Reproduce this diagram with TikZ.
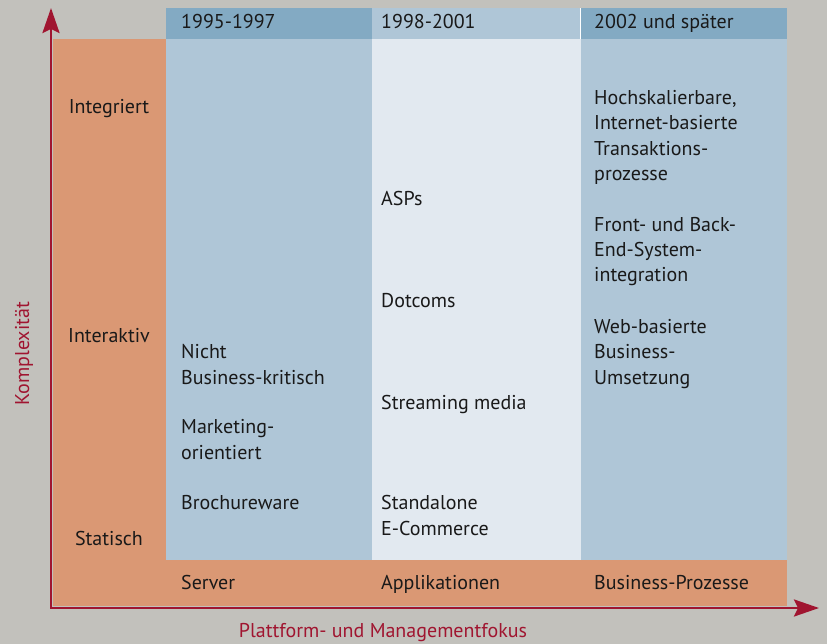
\documentclass[tikz,border=0pt]{standalone}
\usepackage{fontspec}
\setmainfont{PT Sans}
\usepackage{tikz}
\usetikzlibrary{arrows.meta}
\usetikzlibrary{positioning}

\definecolor{grund}{HTML}{C2C1BC}
\definecolor{orange}{HTML}{DA9874}
\definecolor{blau}{HTML}{AFC6D7}
\definecolor{dunkelblau}{HTML}{83AAC3}
\definecolor{hellblau}{HTML}{E2E9F0}
\definecolor{rot}{HTML}{A01530}

\begin{document}
\begin{tikzpicture}[
	x=1pt, y=-1pt,
  > = {Stealth[length=25pt,width=17pt,inset=4pt]},
  axis/.style = {draw=rot,line width=2.6pt},
  lbl/.style = {anchor=base west,inner sep=0pt,align=left,text=black!90,font=\fontsize{20}{25.5}\selectfont},
  stufe/.style = {lbl,anchor=base},
  achse/.style = {inner sep=0pt,text=rot,font=\fontsize{20}{24}\selectfont}
  ]
	\useasboundingbox[fill=grund] (0,0) rectangle (827,644);

	% Flaechen
	\fill[orange] (53,39) rectangle (787,606);
	\fill[dunkelblau] (166,8) rectangle (372,39);
	\fill[blau] (372,8) rectangle (580,39);
	\fill[dunkelblau] (581,8) rectangle (787,39);
	\fill[blau] (166,39) rectangle (372,560);
	\fill[hellblau] (372,39) rectangle (581,560);
	\fill[blau] (581,39) rectangle (787,560);
	\fill[white] (580,8) rectangle (581,39);

	\coordinate (@y) at (51,8);
	\coordinate (@x) at (819,608);

  	\draw[<->, axis] (@y) |- (@x);

	\node[achse, anchor=base] (xlabel) at (383,637) {Plattform- und Managementfokus};
	\node[achse, anchor=base, rotate=90] (ylabel) at (29,354) {Komplexität};

	% Spaltenkoepfe
	\node[lbl] (kopf1) at (181,29) {1995-1997};
	\node[lbl] (kopf2) at (381,29) {1998-2001};
	\node[lbl] (kopf3) at (594,29) {2002 und später};

	% Stufen
	\node[stufe] (integriert) at (109,114) {Integriert};
	\node[stufe] (interaktiv) at (109,342) {Interaktiv};
	\node[stufe] (statisch) at (109,545) {Statisch};

	% 1995-1997 (base = letzte Zeile)
	\node[lbl] (nicht) at (181,384) {Nicht\\Business-kritisch};
	\node[lbl] (marketing) at (181,459) {Marketing-\\orientiert};
	\node[lbl] (brochure) at (181,509) {Brochureware};

	% 1998-2001
	\node[lbl] (asps) at (381,206) {ASPs};
	\node[lbl] (dotcoms) at (381,308) {Dotcoms};
	\node[lbl] (streaming) at (381,409) {Streaming media};
	\node[lbl] (standalone) at (381,535) {Standalone\\E-Commerce};

	% 2002 und spaeter
	\node[lbl] (hochskal) at (594,181) {Hochskalierbare,\\Internet-basierte\\Transaktions-\\prozesse};
	\node[lbl] (frontback) at (594,282) {Front- und Back-\\End-System-\\integration};
	\node[lbl] (webbasiert) at (594,384) {Web-basierte\\Business-\\Umsetzung};

	% Plattformen
	\node[lbl] (server) at (181,589) {Server};
	\node[lbl] (applikationen) at (381,589) {Applikationen};
	\node[lbl] (prozesse) at (594,589) {Business-Prozesse};

\end{tikzpicture}
\end{document}
